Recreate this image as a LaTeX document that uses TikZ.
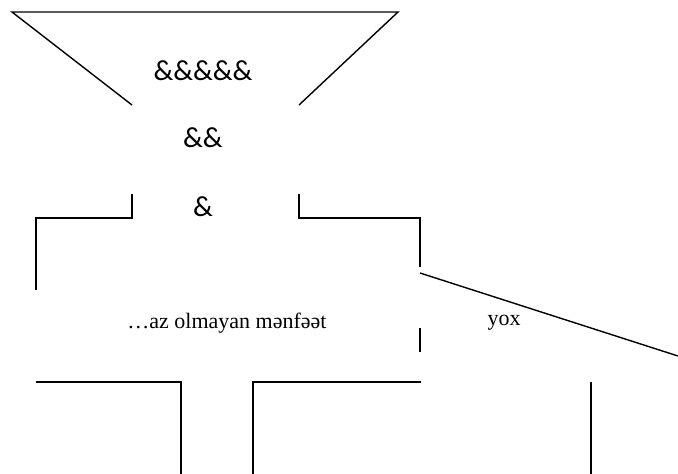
\documentclass[tikz,border=0pt]{standalone}
\usepackage{fontspec}
\setmainfont{Liberation Serif}
\newfontfamily\ampfont{Carlito}
\usetikzlibrary{positioning}

\begin{document}
\begin{tikzpicture}[
  x=1pt, y=-1pt,
  edge/.style={draw=black, line width=1.4pt},
  amp/.style={font=\ampfont\fontsize{29}{32}\selectfont, inner sep=0pt},
  lbl/.style={font=\fontsize{22}{26}\selectfont, inner sep=0pt},
]
  \useasboundingbox (0,0) rectangle (678,474);

  % funnel
  \draw[edge] (132,105) -- (12,12) -- (398,12) -- (299,105);
  \node[amp] (amp5) at (203,71) {\&\&\&\&\&};
  \node[amp] (amp2) at (203,138) {\&\&};
  \node[amp] (amp1) at (203,207) {\&};

  % middle brackets
  \draw[edge] (132,194) -- (132,218) -- (36,218) -- (36,290);
  \draw[edge] (299,194) -- (299,218) -- (420,218) -- (420,267);
  \draw[edge] (420,273) -- (678,356);
  \draw[edge] (420,328) -- (420,352);
  \node[lbl] (loss) at (227,323) {…az olmayan mənfəət};
  \node[lbl] (no) at (504,323) {yox};

  % bottom boxes
  \draw[edge] (36,382) -- (181,382) -- (181,474);
  \draw[edge] (253,474) -- (253,382) -- (421,382);
  \draw[edge] (591,382) -- (591,474);
\end{tikzpicture}
\end{document}
